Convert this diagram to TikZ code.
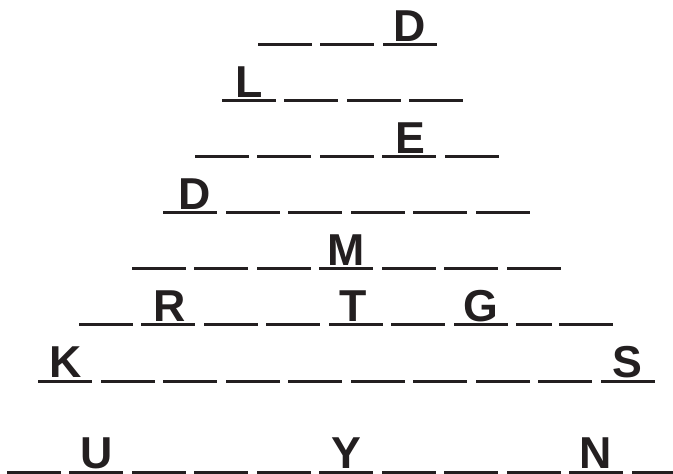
\documentclass[tikz,border=0pt]{standalone}
\usepackage{fontspec}
\setmainfont{Liberation Sans}
\definecolor{ink}{RGB}{35,31,32}
\tikzset{
  blankbox/.style={rectangle, fill=ink, draw=none, inner sep=0pt, minimum width=54pt, minimum height=3pt, anchor=west},
  letter/.style={font=\bfseries\fontsize{44.7}{50}\selectfont, text=ink, anchor=base, inner sep=0pt}
}
\begin{document}
\begin{tikzpicture}[x=1pt,y=1pt]
\useasboundingbox (0,0) rectangle (673,474);
% regular rows: row / y(from top) / start x / count
\foreach \r/\y/\x/\n in {1/45/257.5/3, 2/101/221.5/4, 3/157/194.5/5, 4/213/163/6, 5/269/131.5/7, 7/381.5/38/10, 8/472.5/6.5/11}{
  \foreach \k in {1,...,\n}{
    \node[blankbox] (b\r-\k) at ({\x+62.5*(\k-1)}, {474-\y}) {};
  }
}
% row 6
\foreach \k in {1,...,7}{
  \node[blankbox] (b6-\k) at ({78.5+62.5*(\k-1)}, {474-325}) {};
}
\node[blankbox, minimum width=36pt] (b6-8) at (515.5, {474-325}) {};
\node[blankbox] (b6-9) at (558.5, {474-325}) {};
% letters
\node[letter] (t1) at ([yshift=3.5pt]b1-3.center) {D};
\node[letter] (t2) at ([yshift=3.5pt]b2-1.center) {L};
\node[letter] (t3) at ([xshift=1pt,yshift=3.5pt]b3-4.center) {E};
\node[letter] (t4) at ([xshift=4pt,yshift=3.5pt]b4-1.center) {D};
\node[letter] (t5) at ([yshift=3.5pt]b5-4.center) {M};
\node[letter] (t6a) at ([xshift=1pt,yshift=3.5pt]b6-2.center) {R};
\node[letter] (t6b) at ([xshift=-3pt,yshift=3.5pt]b6-5.center) {T};
\node[letter] (t6c) at ([yshift=3.5pt]b6-7.center) {G};
\node[letter] (t7a) at ([yshift=3.5pt]b7-1.center) {K};
\node[letter] (t7b) at ([yshift=3.5pt]b7-10.center) {S};
\node[letter] (t8a) at ([yshift=3.5pt]b8-2.center) {U};
\node[letter] (t8b) at ([yshift=3.5pt]b8-6.center) {Y};
\node[letter] (t8c) at ([xshift=-1pt,yshift=3.5pt]b8-10.center) {N};
\end{tikzpicture}
\end{document}
